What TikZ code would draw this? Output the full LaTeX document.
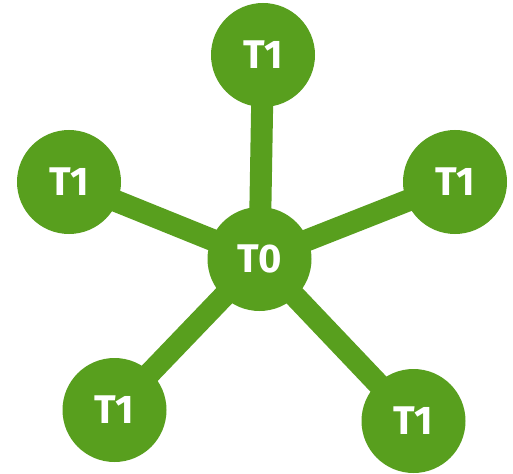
\documentclass[tikz,border=0pt]{standalone}
\usepackage{fontspec}
\setsansfont{Fira Sans}
\usetikzlibrary{backgrounds}
\definecolor{tgreen}{HTML}{589F1E}
\tikzset{
  tnode/.style={circle, fill=tgreen, text=white, minimum size=104pt, inner sep=0pt,
                font=\sffamily\bfseries\fontsize{40}{40}\selectfont},
  tlink/.style={draw=tgreen, line width=22pt},
}
\begin{document}
\begin{tikzpicture}[x=1pt, y=-1pt]
  \useasboundingbox (0,0) rectangle (513,473);

  %% Root
  \node[tnode] (t0) at (259.5,259) {T0};

  %% Children
  \node[tnode] (ttop)   at (263,55)    {T1};
  \node[tnode] (tleft)  at (69,182)    {T1};
  \node[tnode] (tright) at (455,182)   {T1};
  \node[tnode] (tbl)    at (114.5,410) {T1};
  \node[tnode] (tbr)    at (413.5,421) {T1};

  %% Links behind the circles
  \begin{scope}[on background layer]
    \foreach \n in {ttop, tleft, tright, tbl, tbr}{
      \draw[tlink] (t0.center) -- (\n.center);
    }
  \end{scope}
\end{tikzpicture}
\end{document}
